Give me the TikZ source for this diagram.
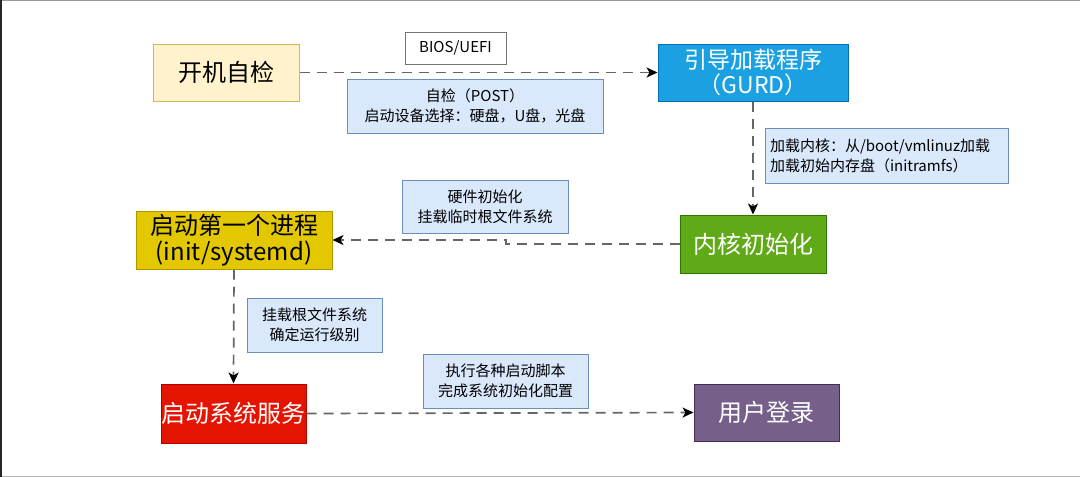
\documentclass[tikz,border=0pt]{standalone}
\usepackage{fontspec}
\setmainfont{Noto Sans CJK SC}
\usetikzlibrary{arrows.meta,calc}

\definecolor{jauneclair}{HTML}{FFF2CC}
\definecolor{jaunebord}{HTML}{D6B656}
\definecolor{bleu}{HTML}{1BA1E2}
\definecolor{bleubord}{HTML}{006EAF}
\definecolor{vert}{HTML}{60A917}
\definecolor{vertbord}{HTML}{2D7600}
\definecolor{or}{HTML}{E3C800}
\definecolor{orbord}{HTML}{B09500}
\definecolor{rouge}{HTML}{E51400}
\definecolor{rougebord}{HTML}{B20000}
\definecolor{violet}{HTML}{76608A}
\definecolor{violetbord}{HTML}{432D57}
\definecolor{notefond}{HTML}{DAE8FC}
\definecolor{notebord}{HTML}{6C8EBF}

\tikzset{
    etape/.style={draw, line width=1pt, inner sep=0pt, align=center,
        font=\fontsize{24}{27}\selectfont},
    note/.style={draw=notebord, fill=notefond, line width=1pt, inner sep=0pt,
        align=center, font=\fontsize{15}{20}\selectfont},
    fleche/.style={line width=1.7pt, draw=black!60, dash pattern=on 10pt off 7pt,
        -{Stealth[length=11pt,width=10pt,inset=3pt,black]}}
}

\begin{document}
\begin{tikzpicture}[x=1pt,y=-1pt]
        \useasboundingbox (0,0) rectangle (1080,477);
        % Cadre de la capture
        \fill[white] (0,0) rectangle (1080,477);
        \draw[black!40, line width=1.5pt] (0,0.5) -- (1080,0.5);
        \draw[black!30, line width=1.5pt] (0,476.5) -- (1080,476.5);
        \draw[black!85, line width=2pt] (1,0) -- (1,477);

        % Etapes
        \node[etape, draw=jaunebord, fill=jauneclair, minimum width=146, minimum height=57]
            (post) at (226,72.5) {开机自检};
        \node[etape, draw=bleubord, fill=bleu, text=white, minimum width=190, minimum height=57,
            font=\fontsize{23}{25}\selectfont]
            (loader) at (753,72.5) {引导加载程序\\（GURD）};
        \node[etape, draw=vertbord, fill=vert, text=white, minimum width=146, minimum height=58]
            (kernel) at (753,244) {内核初始化};
        \node[etape, draw=orbord, fill=or, minimum width=196, minimum height=58,
            font=\fontsize{24}{26}\selectfont]
            (init) at (234,240) {启动第一个进程\\(init/systemd)};
        \node[etape, draw=rougebord, fill=rouge, text=white, minimum width=145, minimum height=59]
            (services) at (233.5,413.5) {启动系统服务};
        \node[etape, draw=violetbord, fill=violet, text=white, minimum width=145, minimum height=57]
            (login) at (766.5,412.5) {用户登录};

        % Notes
        \node[draw=black!55, fill=white, line width=1pt, inner sep=0pt,
            minimum width=101, minimum height=32, font=\fontsize{15}{18}\selectfont]
            (bios) at (455.5,48) {BIOS/UEFI};
        \node[note, minimum width=256, minimum height=54]
            (selftest) at (475,106) {自检（POST）\\启动设备选择：硬盘，U盘，光盘};
        \node[note, minimum width=243, minimum height=55, align=left, text width=233]
            (kload) at (886.5,155.5) {加载内核：从/boot/vmlinuz加载\\加载初始内存盘（initramfs）};
        \node[note, minimum width=166, minimum height=53]
            (hw) at (485,206.5) {硬件初始化\\挂载临时根文件系统};
        \node[note, minimum width=135, minimum height=54]
            (mount) at (314.5,325) {挂载根文件系统\\确定运行级别};
        \node[note, minimum width=165, minimum height=54]
            (scripts) at (505.5,381) {执行各种启动脚本\\完成系统初始化配置};

        % Fleches
        \draw[fleche] (post.east) -- (loader.west);
        \draw[fleche] (loader.south) -- (kernel.north);
        \draw[fleche] (kernel.west) -| ($(kernel.west)!0.5!(init.east)$) |- (init.east);
        \draw[fleche] (init.south) -- (services.north);
        \draw[fleche] (services.east) -- (login.west);
    \end{tikzpicture}
\end{document}
